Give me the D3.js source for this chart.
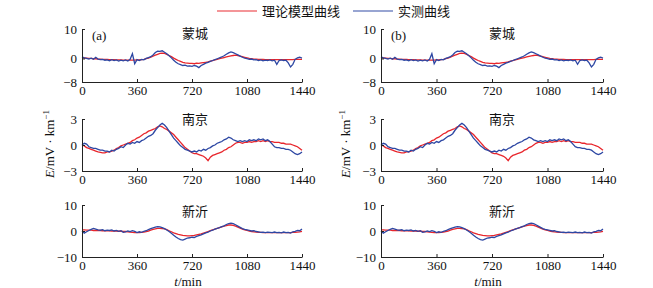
<!DOCTYPE html>
<html>
<head>
<meta charset="utf-8">
<script src="https://cdn.jsdelivr.net/npm/d3@7"></script>
<style>
  body { margin: 0; background: #fff; }
  text { font-family: "Liberation Serif", "Times New Roman", serif; fill: #111; }
  .cjk { font-family: "Noto Sans CJK SC", sans-serif; }
</style>
</head>
<body>
<div id="chart"></div>
<script>
// sampling times (min), one value every 15 min
const times = d3.range(0, 1441, 15);

const stations = ["蒙城", "南京", "新沂"];
const panels = ["(a)", "(b)"];
const legendLabels = ["理论模型曲线", "实测曲线"];
const xTicks = [0, 360, 720, 1080, 1440];
const yDomains = [[-8, 10], [-3, 3], [-10, 10]];
const yTicks = [[-8, 0, 10], [-3, 0, 3], [-10, 0, 10]];

// 蒙城
const mcModel = [
  0.3, 0.2, 0.1, 0.0, 0.0, -0.1, -0.1, -0.2, -0.2, -0.3, -0.3, -0.3,
  -0.4, -0.4, -0.4, -0.5, -0.5, -0.5, -0.6, -0.6, -0.6, -0.6, -0.6, -0.6,
  -0.5, -0.5, -0.4, -0.3, -0.1, 0.1, 0.4, 0.8, 1.1, 1.4, 1.7, 1.8,
  1.7, 1.4, 1.0, 0.6, 0.1, -0.3, -0.7, -1.0, -1.3, -1.5, -1.6, -1.7,
  -1.7, -1.8, -1.6, -1.7, -1.5, -1.4, -1.3, -1.2, -0.9, -0.7, -0.5, -0.3,
  -0.1, 0.1, 0.3, 0.5, 0.7, 0.9, 1.0, 1.1, 1.0, 0.8, 0.6, 0.4,
  0.2, 0.0, -0.1, -0.2, -0.2, -0.3, -0.3, -0.3, -0.4, -0.4, -0.4, -0.4,
  -0.4, -0.4, -0.4, -0.4, -0.4, -0.4, -0.4, -0.4, -0.4, -0.3, -0.3, -0.3,
  -0.3
];
const mcObs = [
  0.5, 0.2, 0.0, -0.2, 0.1, -0.3, 0.4, -0.2, -0.4, -0.3, -0.6, -0.5,
  -0.8, -0.4, -0.7, -0.5, -0.9, -0.6, -0.8, -0.5, -0.9, -0.3, 1.6, -1.8,
  -0.4, -0.7, -0.3, -0.5, 0.0, 0.3, 0.6, 1.2, 2.0, 2.5, 2.4, 2.6,
  2.1, 1.6, 0.9, 0.2, -0.6, -1.3, -1.8, -2.1, -2.4, -2.3, -2.6, -2.5,
  -2.7, -2.4, -2.6, -3.1, -2.4, -2.0, -1.6, -1.3, -1.0, -0.7, -0.4, -0.1,
  0.2, 0.5, 0.9, 1.4, 1.9, 2.2, 2.0, 1.6, 1.2, 0.8, 0.4, 0.1,
  -0.1, -0.3, -0.2, -0.5, -0.4, -0.7, -0.5, -0.8, -0.6, -0.7, -0.5, -0.8,
  -0.6, -2.0, -0.7, -0.5, -0.7, -0.6, -1.5, -2.9, -2.0, -0.3, 0.2, 0.4,
  0.1
];

// 南京
const njModel = [
  0.0, -0.1, -0.3, -0.4, -0.5, -0.6, -0.7, -0.8, -0.85, -0.9, -0.9, -0.8,
  -0.8, -0.7, -0.6, -0.4, -0.3, -0.1, 0.0, 0.1, 0.2, 0.3, 0.5, 0.6,
  0.8, 0.9, 1.1, 1.3, 1.4, 1.6, 1.7, 1.8, 1.9, 2.1, 2.2, 2.1,
  1.9, 1.8, 1.6, 1.4, 1.2, 0.9, 0.6, 0.3, 0.0, -0.3, -0.5, -0.7,
  -0.9, -1.0, -1.0, -1.1, -1.2, -1.3, -1.5, -1.8, -1.4, -1.2, -1.1, -1.0,
  -0.9, -0.8, -0.6, -0.5, -0.3, -0.2, 0.0, 0.2, 0.3, 0.3, 0.2, 0.3,
  0.3, 0.4, 0.3, 0.4, 0.4, 0.5, 0.4, 0.5, 0.4, 0.5, 0.4, 0.4,
  0.3, 0.3, 0.3, 0.2, 0.2, 0.1, 0.1, 0.1, 0.0, -0.1, -0.2, -0.4,
  -0.6
];
const njObs = [
  0.0, 0.2, 0.1, -0.2, -0.3, -0.4, -0.4, -0.5, -0.6, -0.6, -0.7, -0.7,
  -0.8, -0.6, -0.7, -0.5, -0.4, -0.2, -0.3, 0.0, 0.2, 0.1, 0.3, 0.2,
  0.4, 0.3, 0.5, 0.6, 0.8, 1.0, 1.1, 1.3, 1.7, 2.0, 2.3, 2.5,
  2.3, 2.0, 1.6, 1.2, 0.8, 0.5, 0.2, -0.1, -0.3, -0.5, -0.6, -0.7,
  -0.8, -0.7, -0.8, -0.6, -0.7, -0.5, -0.6, -0.4, -0.3, -0.1, 0.0, 0.2,
  0.3, 0.4, 0.6, 0.7, 0.9, 0.8, 0.6, 0.5, 0.4, 0.5, 0.4, 0.5,
  0.4, 0.6, 0.5, 0.6, 0.5, 0.7, 0.6, 0.7, 0.5, 0.6, 0.4, 0.1,
  -0.2, -0.3, -0.3, -0.4, -0.4, -0.5, -0.5, -0.6, -0.8, -1.0, -1.1, -1.0,
  -0.8
];

// 新沂
const xyModel = [
  0.4, 0.4, 0.3, 0.3, 0.3, 0.2, 0.2, 0.2, 0.2, 0.1, 0.1, 0.1,
  0.1, 0.0, 0.0, 0.0, -0.1, -0.1, -0.2, -0.2, -0.3, -0.4, -0.5, -0.6,
  -0.6, -0.6, -0.5, -0.4, -0.2, 0.0, 0.3, 0.6, 0.8, 1.0, 1.0, 0.9,
  0.8, 0.5, 0.1, -0.3, -0.7, -1.0, -1.3, -1.5, -1.7, -1.8, -1.9, -1.9,
  -1.8, -1.7, -1.5, -1.3, -1.1, -0.8, -0.5, -0.2, 0.1, 0.4, 0.7, 1.0,
  1.3, 1.6, 1.9, 2.1, 2.3, 2.3, 2.2, 1.9, 1.5, 1.1, 0.7, 0.4,
  0.2, 0.0, -0.2, -0.3, -0.4, -0.5, -0.5, -0.6, -0.6, -0.6, -0.6, -0.6,
  -0.6, -0.6, -0.6, -0.6, -0.6, -0.6, -0.6, -0.6, -0.5, -0.5, -0.4, -0.3,
  -0.1
];
const xyObs = [
  0.0, -0.8, -0.3, 0.2, 0.6, 1.0, 0.7, 0.4, 0.3, 0.5, 0.1, 0.3,
  0.2, 0.4, 0.0, 0.2, -0.1, 0.1, -0.5, -0.3, 0.0, -0.2, 0.1, -0.1,
  -0.6, -0.3, -0.5, -0.1, 0.1, 0.5, 0.9, 1.2, 1.5, 1.7, 1.6, 1.3,
  0.9, 0.4, -0.2, -0.9, -1.6, -2.3, -2.9, -3.3, -3.5, -3.1, -2.7, -2.6,
  -2.4, -2.5, -2.1, -1.8, -1.5, -1.1, -0.7, -0.4, 0.0, 0.3, 0.7, 1.0,
  1.3, 1.7, 2.0, 2.5, 2.8, 3.0, 2.8, 2.4, 1.9, 1.4, 0.9, 0.6,
  0.4, 0.2, 0.0, 0.1, -0.2, -0.3, -0.5, -0.4, -0.6, -0.4, -0.5, -0.6,
  -0.4, -0.6, -0.5, -0.7, -0.4, -0.6, -0.5, -0.8, -0.3, -0.1, 0.2, 0.1,
  0.8
];

const modelSeries = [mcModel, njModel, xyModel];
const obsSeries = [mcObs, njObs, xyObs];

const width = 653, height = 288;
const red = "#e8262c", blue = "#2d47a3";

// layout
const cols = [{ x0: 82, x1: 302, titleDx: 113, labelX: 54 },
              { x0: 381, x1: 603, titleDx: 121, labelX: 350 }];
const rows = [{ top: 29, bottom: 82, titleY: 38 },
              { top: 119, bottom: 171, titleY: 124 },
              { top: 205, bottom: 257, titleY: 216 }];

const svg = d3.select("#chart").append("svg")
  .attr("width", width)
  .attr("height", height);

const line = (xs, ys) => d3.line()
  .x((d, i) => xs(times[i]))
  .y(d => ys(d));

const fmt = d3.format("d");

cols.forEach((c, ci) => {
  const xScale = d3.scaleLinear().domain([0, 1440]).range([c.x0, c.x1]);

  rows.forEach((r, ri) => {
    const yScale = d3.scaleLinear().domain(yDomains[ri]).range([r.bottom, r.top]);
    const g = svg.append("g");

    g.append("path")
      .datum(modelSeries[ri])
      .attr("fill", "none")
      .attr("stroke", red)
      .attr("stroke-width", 1.3)
      .attr("d", line(xScale, yScale));
    g.append("path")
      .datum(obsSeries[ri])
      .attr("fill", "none")
      .attr("stroke", blue)
      .attr("stroke-width", 1.3)
      .attr("d", line(xScale, yScale));

    const xAxis = d3.axisBottom(xScale).tickValues(xTicks).tickFormat(fmt)
      .tickSizeInner(-3).tickSizeOuter(0).tickPadding(4);
    const yAxis = d3.axisLeft(yScale).tickValues(yTicks[ri]).tickFormat(fmt)
      .tickSizeInner(-3).tickSizeOuter(0).tickPadding(5);

    const gx = g.append("g").attr("transform", `translate(0,${r.bottom})`).call(xAxis);
    const gy = g.append("g").attr("transform", `translate(${c.x0},0)`).call(yAxis);
    [gx, gy].forEach(a => {
      a.selectAll("path, line").attr("stroke", "#222");
      a.selectAll("text").attr("font-size", 13).attr("fill", "#111")
        .style("font-family", "'Liberation Serif', serif");
    });

    g.append("text")
      .attr("class", "cjk")
      .attr("x", c.x0 + c.titleDx)
      .attr("y", r.titleY)
      .attr("text-anchor", "middle")
      .attr("font-size", 13)
      .text(stations[ri]);
  });

  svg.append("text")
    .attr("x", c.x0 + 10)
    .attr("y", 40)
    .attr("font-size", 13)
    .text(panels[ci]);

  // y label
  const yl = svg.append("text")
    .attr("transform", `translate(${c.labelX},144) rotate(-90)`)
    .attr("text-anchor", "middle")
    .attr("font-size", 13);
  yl.append("tspan").attr("font-style", "italic").text("E");
  yl.append("tspan").text("/mV · km");
  yl.append("tspan").attr("font-size", 9).attr("dy", -5).text("−1");

  // x label
  const xl = svg.append("text")
    .attr("x", (c.x0 + c.x1) / 2 - 4)
    .attr("y", 285.5)
    .attr("text-anchor", "middle")
    .attr("font-size", 13);
  xl.append("tspan").attr("font-style", "italic").text("t");
  xl.append("tspan").text("/min");
});

// legend
const legend = [{ color: red, x: 217 }, { color: blue, x: 353 }];
legend.forEach((l, i) => {
  svg.append("line")
    .attr("x1", l.x).attr("x2", l.x + 40)
    .attr("y1", 11).attr("y2", 11)
    .attr("stroke", l.color)
    .attr("stroke-opacity", 0.65)
    .attr("stroke-width", 1.3);
  svg.append("text")
    .attr("class", "cjk")
    .attr("x", l.x + 45)
    .attr("y", 16)
    .attr("font-size", 13)
    .text(legendLabels[i]);
});
</script>
</body>
</html>
